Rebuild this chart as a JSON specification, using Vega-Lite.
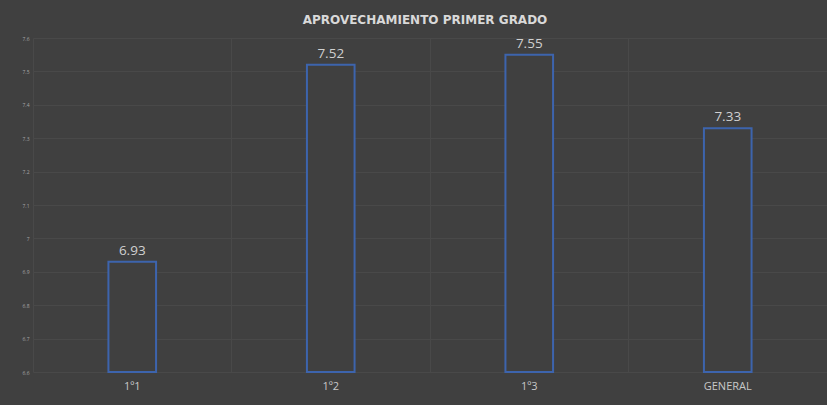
{
  "$schema": "https://vega.github.io/schema/vega-lite/v6.json",
  "autosize": "none",
  "width": 794,
  "height": 334,
  "padding": {"left": 33, "top": 38, "right": 0, "bottom": 33},
  "background": "#404040",
  "config": {
    "view": {"stroke": null},
    "font": "Open Sans"
  },
  "title": {
    "text": "APROVECHAMIENTO PRIMER GRADO",
    "fontSize": 12,
    "fontWeight": "bold",
    "color": "#d9d9d9",
    "font": "DejaVu Sans",
    "offset": 9,
    "dx": -5
  },
  "data": {
    "values": [
      {"grupo": "1º1", "promedio": 6.93},
      {"grupo": "1º2", "promedio": 7.52},
      {"grupo": "1º3", "promedio": 7.55},
      {"grupo": "GENERAL", "promedio": 7.33}
    ]
  },
  "encoding": {
    "x": {
      "field": "grupo",
      "type": "nominal",
      "sort": null,
      "scale": {"paddingInner": 0, "paddingOuter": 0},
      "axis": {
        "title": null,
        "labelAngle": 0,
        "labelFontSize": 11,
        "labelColor": "#c8c8c8",
        "labelPadding": 8,
        "ticks": false,
        "domain": false,
        "grid": true,
        "bandPosition": 0,
        "gridColor": "#494949",
        "gridWidth": 1
      }
    },
    "y": {
      "field": "promedio",
      "type": "quantitative",
      "scale": {"domain": [6.6, 7.6], "zero": false, "nice": false},
      "axis": {
        "title": null,
        "values": [6.6, 6.7, 6.8, 6.9, 7, 7.1, 7.2, 7.3, 7.4, 7.5, 7.6],
        "format": "~g",
        "labelFontSize": 5,
        "labelColor": "#a6a6a6",
        "labelPadding": 4,
        "ticks": false,
        "domain": false,
        "grid": true,
        "gridColor": "#494949",
        "gridWidth": 1
      }
    }
  },
  "layer": [
    {
      "mark": {
        "type": "bar",
        "width": {"band": 0.24},
        "fill": "#404040",
        "stroke": "#3d64ad",
        "strokeWidth": 2
      },
      "encoding": {
        "y2": {"datum": 6.6}
      }
    },
    {
      "mark": {
        "type": "text",
        "baseline": "bottom",
        "dy": -4,
        "fontSize": 13.5,
        "color": "#d0d0d0",
        "font": "Open Sans"
      },
      "encoding": {
        "text": {"field": "promedio", "type": "quantitative", "format": ".2f"}
      }
    }
  ]
}
